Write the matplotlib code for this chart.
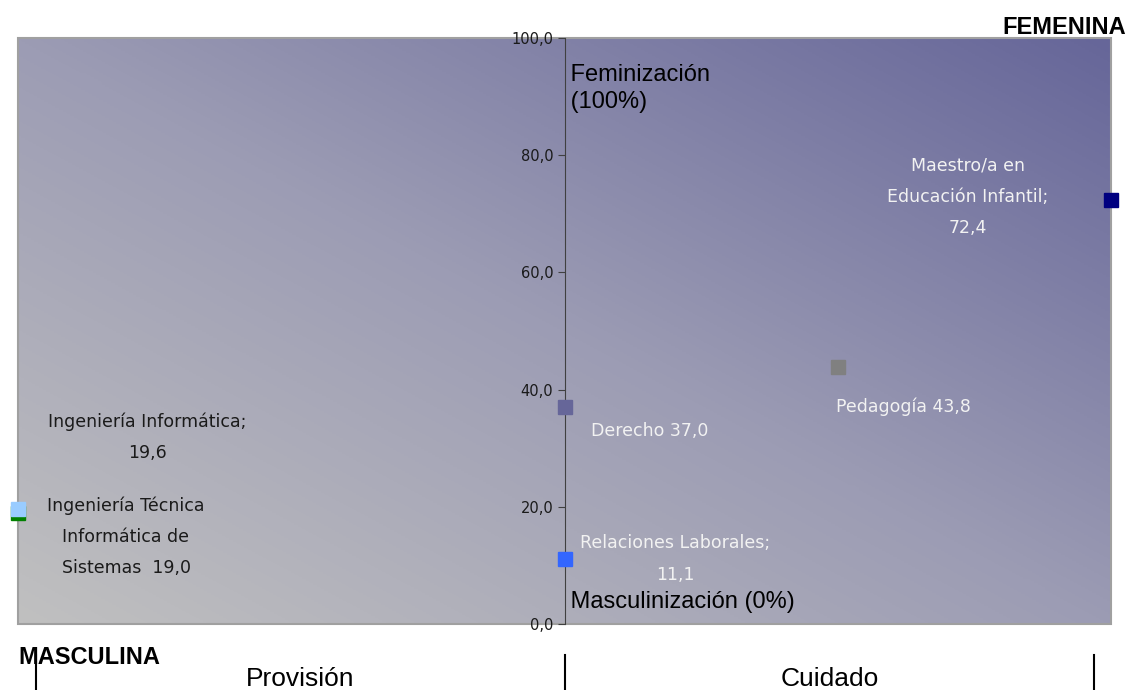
import matplotlib
matplotlib.use("Agg")
import matplotlib.pyplot as plt
import numpy as np
from matplotlib.colors import LinearSegmentedColormap
from matplotlib.patches import Rectangle
from matplotlib.ticker import FuncFormatter

# datos
carreras = [
    "Ingeniería Técnica Informática de Sistemas",
    "Ingeniería Informática",
    "Derecho",
    "Relaciones Laborales",
    "Pedagogía",
    "Maestro/a en Educación Infantil",
]
posicion = [0, 0, 1, 1, 1.5, 2]  # 0 = provision, 2 = cuidado
feminizacion = [19.0, 19.6, 37.0, 11.1, 43.8, 72.4]
etiquetas = [
    "Ingeniería Técnica\nInformática de\nSistemas  19,0",
    "Ingeniería Informática;\n19,6",
    "Derecho 37,0",
    "Relaciones Laborales;\n11,1",
    "Pedagogía 43,8",
    "Maestro/a en\nEducación Infantil;\n72,4",
]
colores = ["#008000", "#99ccff", "#666699", "#3366ff", "#808080", "#000080"]

# desplazamiento de cada etiqueta (pixeles) y color del texto
desplaz = [(108, -24), (129, 72), (85, -24), (111, 0), (66, -39), (-143, 3)]
color_txt = ["#1a1a1a", "#1a1a1a", "#f2f2f2", "#f2f2f2", "#f2f2f2", "#f2f2f2"]

fig = plt.figure(figsize=(11.3, 6.9), dpi=100)
ax = fig.add_axes([18 / 1130, 66 / 690, 1093 / 1130, 586 / 690])
ax.set_xlim(0, 2)
ax.set_ylim(0, 100)

# fondo degradado (gris abajo-izquierda, morado arriba-derecha)
n = 300
xs = np.linspace(0, 1, n)
ys = np.linspace(0, 1, n)
X, Y = np.meshgrid(xs, ys)
T = (X + Y) / 2
cmap = LinearSegmentedColormap.from_list("fondo", ["#c0c0c0", "#9c9cb4", "#666699"])
ax.imshow(T, cmap=cmap, extent=[0, 1, 0, 1], transform=ax.transAxes,
          origin="lower", aspect="auto", zorder=0)
ax.add_patch(Rectangle((0, 0), 1, 1, transform=ax.transAxes, fill=False,
                       edgecolor="#a0a0a0", lw=1.5, zorder=1, clip_on=False))

for s in ["top", "right", "bottom"]:
    ax.spines[s].set_visible(False)
ax.spines["left"].set_position(("data", 1))
ax.spines["left"].set_color("#404040")
ax.spines["left"].set_zorder(2)
ax.set_xticks([])
ax.set_yticks([0, 20, 40, 60, 80, 100])
ax.yaxis.set_major_formatter(FuncFormatter(lambda v, p: f"{v:.1f}".replace(".", ",")))
ax.tick_params(axis="y", direction="out", length=5, color="#404040",
               labelsize=10.5, labelcolor="#1a1a1a", pad=3)

for x, y, c, txt, d, tc in zip(posicion, feminizacion, colores, etiquetas, desplaz, color_txt):
    ax.plot(x, y, marker="s", ms=10.5, color=c, ls="none", clip_on=False, zorder=3)
    ax.annotate(txt, (x, y), xytext=d, textcoords="offset pixels", ha="center",
                va="center", fontsize=12.5, color=tc, linespacing=1.95, zorder=4)

ax.text(1, 91.4, " Feminización\n (100%)", fontsize=17, family="Liberation Sans",
        va="center", ha="left", linespacing=1.3, zorder=4)
ax.text(1, 3.8, " Masculinización (0%)", fontsize=17, family="Liberation Sans",
        va="center", ha="left", zorder=4)

fig.text(1126 / 1130, 1 - 27 / 690, "FEMENINA", fontsize=17, weight="bold",
         family="Liberation Sans", ha="right", va="center")
fig.text(18 / 1130, 1 - 657 / 690, "MASCULINA", fontsize=17, weight="bold",
         family="Liberation Sans", ha="left", va="center")
fig.text(300 / 1130, 1 - 679 / 690, "Provisión", fontsize=19,
         family="Liberation Sans", ha="center", va="center")
fig.text(830 / 1130, 1 - 679 / 690, "Cuidado", fontsize=19,
         family="Liberation Sans", ha="center", va="center")
for xp in [36, 565, 1094]:
    fig.add_artist(plt.Line2D([xp / 1130, xp / 1130], [0, 35 / 690], color="black", lw=1.5))

fig.savefig("out.png", dpi=100)
